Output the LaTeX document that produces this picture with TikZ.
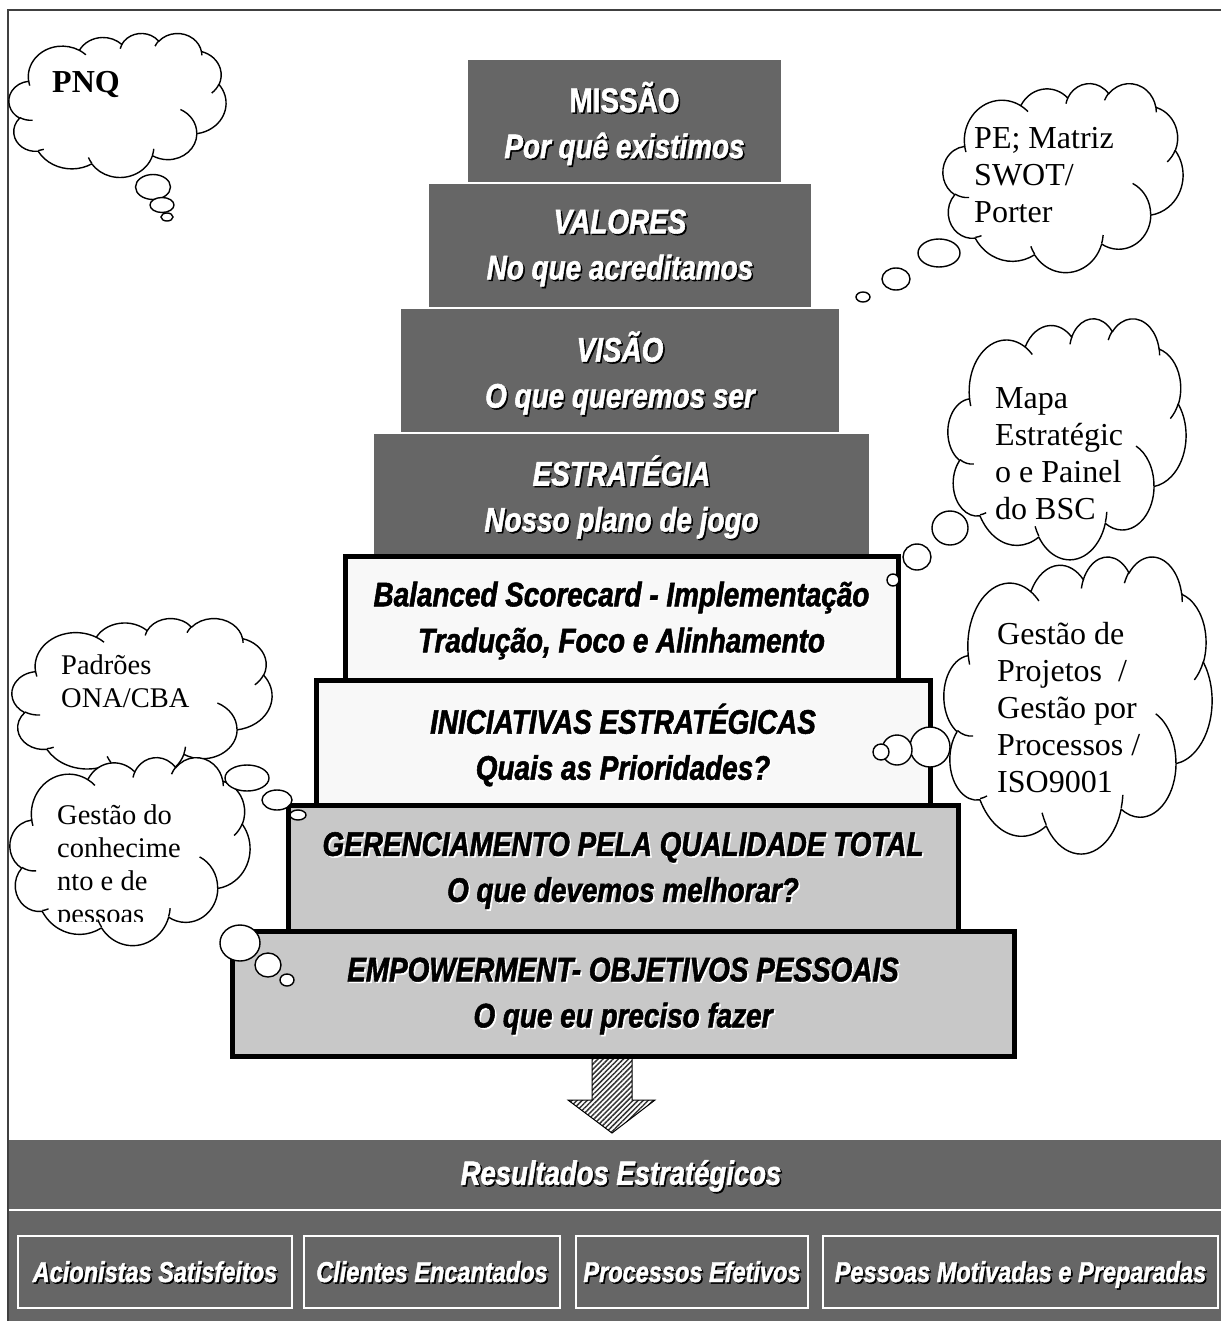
\documentclass[tikz,border=0pt]{standalone}
\usepackage{fontspec}
\setmainfont{Liberation Serif}
\newfontfamily\narrowsans[FakeStretch=0.82,
  BoldFeatures={FakeBold=1.6}, BoldItalicFeatures={FakeBold=1.6}]{Liberation Sans}
\usetikzlibrary{patterns.meta}

\definecolor{stepdark}{HTML}{666666}
\definecolor{steplight}{HTML}{F8F8F8}
\definecolor{stepgray}{HTML}{C8C8C8}
\definecolor{framegray}{HTML}{404040}

\tikzset{
  darkstep/.style={rectangle, fill=stepdark, draw=white, line width=1.5pt, inner sep=0pt},
  boldstep/.style={rectangle, draw=black, line width=5pt, inner sep=0pt},
  lbl/.style={align=center, inner sep=0pt,
    font=\narrowsans\bfseries\itshape\fontsize{34}{46}\selectfont},
  tworow/.style={yshift=-2.5pt},
  onerow/.style={text height=30pt, text depth=6.5pt,
    font=\narrowsans\bfseries\itshape\fontsize{33.5}{40}\selectfont},
  smallrow/.style={text height=26pt, text depth=6pt,
    font=\narrowsans\bfseries\itshape\fontsize{28.7}{34}\selectfont},
  outbox/.style={rectangle, draw=white, line width=1.2pt, inner sep=0pt},
  cloudline/.style={draw=black, line width=1.4pt, line join=round},
  bubble/.style={draw=black, line width=1.4pt, fill=white},
  note/.style={align=left, inner sep=0pt, anchor=north west,
    font=\fontsize{32}{37}\selectfont},
  smallnote/.style={align=left, inner sep=0pt, anchor=north west,
    font=\fontsize{28.5}{33}\selectfont},
}

% label with a drop shadow: #1 node name, #2 text colour, #3 shadow colour, #4 extra style, #5 text
\newcommand\shadowlabel[5]{%
  \node[lbl,#4,text=#3,xshift=1.6pt,yshift=-1.6pt] (#1-shadow) at (#1) {#5};
  \node[lbl,#4,text=#2] (#1-text) at (#1) {#5};}

% thought cloud in a 432 x 432 frame, scaled into the box (#2,#3) of size #4 x #5
\newcommand\thoughtcloud[5]{%
  \begin{scope}[shift={(#2,#3)}, xscale=#4/432, yscale=#5/432]
    \coordinate (#1) at (216,216);
    \filldraw[cloudline, fill=white] (39,143.7)
      arc[start angle=-187.74, end angle=-59.64, x radius=67.53, y radius=91.90]
      arc[start angle=-152.02, end angle=-45.45, x radius=53.33, y radius=72.67]
      arc[start angle=-153.49, end angle=-37.36, x radius=43.65, y radius=59.45]
      arc[start angle=-139.72, end angle=-10.22, x radius=48.57, y radius=65.95]
      arc[start angle=-74.77, end angle=23.21, x radius=53.33, y radius=72.73]
      arc[start angle=-37.52, end angle=81.86, x radius=67.75, y radius=92.20]
      arc[start angle=0.46, end angle=121.97, x radius=57.85, y radius=78.67]
      arc[start angle=16.85, end angle=146.22, x radius=67.52, y radius=92.15]
      arc[start angle=58.98, end angle=150.18, x radius=77.20, y radius=105.43]
      arc[start angle=83.31, end angle=223.12, x radius=43.60, y radius=59.18]
      arc[start angle=120.36, end angle=264.11, x radius=43.45, y radius=59.45]
      -- cycle;
    \draw[cloudline] (46.93,261.77) arc[start angle=85.54, end angle=120.36, x radius=43.45, y radius=59.45];
    \draw[cloudline] (69.28,348.99) arc[start angle=68.24, end angle=83.31, x radius=43.60, y radius=59.18];
    \draw[cloudline] (164.78,390.90) arc[start angle=146.22, end angle=158.47, x radius=67.52, y radius=92.15];
    \draw[cloudline] (288.27,347.51) arc[start angle=4.73, end angle=16.85, x radius=67.52, y radius=92.15];
    \draw[cloudline] (341.29,229.54) arc[start angle=-64.02, end angle=0.46, x radius=57.85, y radius=78.67];
    \draw[cloudline] (417.98,153.54) arc[start angle=23.21, end angle=49.64, x radius=53.33, y radius=72.73];
    \draw[cloudline] (383.24,54.26) arc[start angle=-10.21, end angle=0.83, x radius=48.57, y radius=65.95];
    \draw[cloudline] (290.78,39.52) arc[start angle=-156.29, end angle=-139.72, x radius=48.57, y radius=65.95];
    \draw[cloudline] (221.41,47.20) arc[start angle=-167.72, end angle=-153.49, x radius=43.65, y radius=59.45];
    \draw[cloudline] (140.00,51.92) arc[start angle=-59.64, end angle=-45.76, x radius=67.53, y radius=91.90];
    \draw[cloudline] (41.27,157.89) arc[start angle=163.19, end angle=172.26, x radius=67.53, y radius=91.90];
  \end{scope}}

\begin{document}
\begin{tikzpicture}[x=1pt,y=-1pt]
\useasboundingbox (0,0) rectangle (1221,1321);
\fill[white] (0,0) rectangle (1221,1321);

% outer frame
\draw[framegray, line width=2pt] (8,1321) -- (8,10) -- (1221,10);

% results band
\node[rectangle, fill=stepdark, inner sep=0pt, anchor=north west,
      minimum width=1212pt, minimum height=182pt] (results) at (9,1140) {};
\draw[white, line width=1.8pt] (9,1210) -- (1221,1210);
\coordinate (restitle) at (621,1173);
\shadowlabel{restitle}{white}{black}{onerow}{Resultados Estratégicos}

\node[outbox, minimum width=274pt, minimum height=72pt] (acion) at (155,1272) {};
\node[outbox, minimum width=256pt, minimum height=72pt] (client) at (432,1272) {};
\node[outbox, minimum width=232pt, minimum height=72pt] (proc) at (692,1272) {};
\node[outbox, minimum width=395pt, minimum height=72pt] (pess) at (1020.5,1272) {};
\shadowlabel{acion}{white}{black}{smallrow}{Acionistas Satisfeitos}
\shadowlabel{client}{white}{black}{smallrow}{Clientes Encantados}
\shadowlabel{proc}{white}{black}{smallrow}{Processos Efetivos}
\shadowlabel{pess}{white}{black}{smallrow}{Pessoas Motivadas e Preparadas}

% hatched arrow down to the results
\coordinate (arrtip) at (612,1133);
\filldraw[pattern={Lines[angle=45,distance=3.6pt,line width=1.5pt]}, pattern color=black!80,
  draw=black, line width=1pt]
  (592,1050) -- (632,1050) -- (632,1100) -- (655,1100) -- (arrtip)
  -- (568,1100) -- (592,1100) -- cycle;

% upper steps
\node[darkstep, minimum width=315pt, minimum height=124pt] (missao) at (624.5,121) {};
\node[darkstep, minimum width=384pt, minimum height=125pt] (valores) at (620,245.5) {};
\node[darkstep, minimum width=440pt, minimum height=125pt] (visao) at (620,370.5) {};
\node[darkstep, minimum width=497pt, minimum height=123pt] (estrat) at (621.5,494.5) {};
\shadowlabel{missao}{white}{black}{tworow}{\upshape MISSÃO\\Por quê existimos}
\shadowlabel{valores}{white}{black}{tworow}{VALORES\\No que acreditamos}
\shadowlabel{visao}{white}{black}{tworow}{VISÃO\\O que queremos ser}
\shadowlabel{estrat}{white}{black}{tworow}{ESTRATÉGIA\\Nosso plano de jogo}

% lower steps
\node[boldstep, fill=steplight, minimum width=553pt, minimum height=124pt] (bsc) at (621.5,618) {};
\node[boldstep, fill=steplight, minimum width=614pt, minimum height=125pt] (inic) at (623,742.5) {};
\node[boldstep, fill=stepgray, minimum width=670pt, minimum height=126pt] (gqt) at (623,868) {};
\node[boldstep, fill=stepgray, minimum width=782pt, minimum height=125pt] (empow) at (623,993.5) {};
\shadowlabel{bsc}{black}{white}{tworow}{Balanced Scorecard - Implementação\\Tradução, Foco e Alinhamento}
\shadowlabel{inic}{black}{white}{tworow}{INICIATIVAS ESTRATÉGICAS\\Quais as Prioridades?}
\shadowlabel{gqt}{black}{white}{tworow}{GERENCIAMENTO PELA QUALIDADE TOTAL\\O que devemos melhorar?}
\shadowlabel{empow}{black}{white}{tworow}{EMPOWERMENT- OBJETIVOS PESSOAIS\\O que eu preciso fazer}

% thought clouds
\thoughtcloud{pnq}{9}{33}{217}{144}
\node[inner sep=0pt, font=\bfseries\fontsize{32}{36}\selectfont] (pnq-text) at (86,85) {PNQ};
\draw[bubble] (153,187) ellipse [x radius=17.5pt, y radius=12.5pt];
\draw[bubble] (162,205) ellipse [x radius=12pt, y radius=7.5pt];
\draw[bubble] (167,217) ellipse [x radius=6pt, y radius=4pt];

\thoughtcloud{swot}{943}{83}{240}{189}
\node[note] (swot-text) at (974,127) {PE; Matriz\\SWOT/\\Porter};
\draw[bubble] (939,253) ellipse [x radius=21pt, y radius=14pt];
\draw[bubble] (896,279) ellipse [x radius=14pt, y radius=11pt];
\draw[bubble] (863,297) ellipse [x radius=7pt, y radius=5pt];

\thoughtcloud{projetos}{944}{556}{268}{297}
\node[note] (projetos-text) at (997,622) {Gestão de\\Projetos~ /\\Gestão por\\Processos /\\ISO9001};
\draw[bubble] (930,747) circle [radius=20pt];
\draw[bubble] (897,750) circle [radius=15pt];
\draw[bubble] (881,752) circle [radius=8pt];

\thoughtcloud{mapa}{948}{318}{238}{241}
\node[note] (mapa-text) at (995,387) {Mapa\\Estratégic\\o e Painel\\do BSC};
\draw[bubble] (950,528) ellipse [x radius=18pt, y radius=17pt];
\draw[bubble] (917,557) ellipse [x radius=14pt, y radius=13pt];
\draw[bubble] (893,580) ellipse [x radius=6pt, y radius=6pt];

\thoughtcloud{ona}{12}{618}{260}{160}
\node[smallnote] (ona-text) at (61,655) {Padrões\\ONA/CBA};

\thoughtcloud{conhec}{10}{757}{240}{188}
\begin{scope}
  \clip (0,700) rectangle (300,921);
  \node[smallnote] (conhec-text) at (57,805) {Gestão do\\conhecime\\nto e de\\pessoas};
\end{scope}
\draw[bubble] (247,778) ellipse [x radius=22pt, y radius=13pt];
\draw[bubble] (277,800) ellipse [x radius=15pt, y radius=10pt];
\draw[bubble] (298,815) ellipse [x radius=8pt, y radius=5pt];
\draw[bubble] (240,943) ellipse [x radius=20pt, y radius=18pt];
\draw[bubble] (268,965) ellipse [x radius=13pt, y radius=12pt];
\draw[bubble] (287,980) ellipse [x radius=7pt, y radius=6pt];
\end{tikzpicture}
\end{document}
